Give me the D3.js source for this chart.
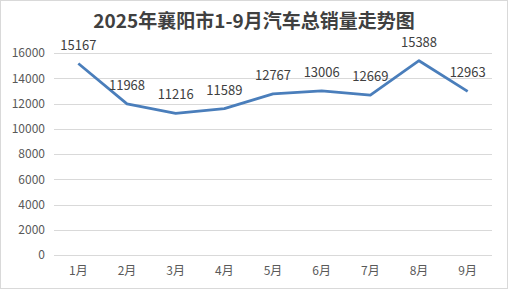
<!DOCTYPE html>
<html>
<head>
<meta charset="utf-8">
<script src="https://cdn.jsdelivr.net/npm/d3@7"></script>
<style>
  body { margin: 0; background: #fff; }
  svg { display: block; }
</style>
</head>
<body>
<svg></svg>
<script>
let width = 508, height = 289;

// data
const months = ["1月", "2月", "3月", "4月", "5月", "6月", "7月", "8月", "9月"];
const sales = [15167, 11968, 11216, 11589, 12767, 13006, 12669, 15388, 12963];
const yTicks = [0, 2000, 4000, 6000, 8000, 10000, 12000, 14000, 16000];
const title = "2025年襄阳市1-9月汽车总销量走势图";

const font = "'Noto Sans CJK SC', 'Noto Sans', sans-serif";

let svg = d3.select("svg")
    .attr("width", width)
    .attr("height", height)
    .style("font-family", font);

// outer frame
svg.append("rect")
    .attr("x", 0.5).attr("y", 0.5)
    .attr("width", width - 1).attr("height", height - 1)
    .attr("fill", "#fff")
    .attr("stroke", "#d9d9d9");

svg.append("text")
    .attr("x", width / 2)
    .attr("y", 28)
    .attr("text-anchor", "middle")
    .attr("font-size", 19)
    .attr("font-weight", "bold")
    .attr("fill", "#404040")
    .text(title);

let plotLeft = 54, plotRight = 492, plotTop = 53, plotBottom = 255;

let x = d3.scaleBand()
    .domain(months)
    .range([plotLeft, plotRight]);

let y = d3.scaleLinear()
    .domain([0, 16000])
    .range([plotBottom, plotTop]);

// gridlines
svg.append("g")
    .selectAll("line")
    .data(yTicks)
    .enter()
    .append("line")
    .attr("x1", plotLeft)
    .attr("x2", plotRight)
    .attr("y1", d => Math.round(y(d)) + 0.5)
    .attr("y2", d => Math.round(y(d)) + 0.5)
    .attr("stroke", "#d9d9d9")
    .attr("stroke-width", 1);

// y axis labels
let yAxis = svg.append("g")
    .attr("transform", "translate(" + (plotLeft - 9) + ",0)")
    .call(d3.axisLeft(y).tickValues(yTicks).tickFormat(d3.format("d")).tickSize(0).tickPadding(0));
yAxis.select(".domain").remove();
yAxis.selectAll("text")
    .attr("font-family", font)
    .attr("font-size", 12)
    .attr("fill", "#595959");

// x axis labels
let xAxis = svg.append("g")
    .attr("transform", "translate(0," + plotBottom + ")")
    .call(d3.axisBottom(x).tickSize(0).tickPadding(11));
xAxis.select(".domain").remove();
xAxis.selectAll("text")
    .attr("font-family", font)
    .attr("font-size", 12)
    .attr("fill", "#595959");

let cx = d => x(d) + x.bandwidth() / 2;

let line = d3.line()
    .x((d, i) => cx(months[i]))
    .y(d => y(d));

svg.append("path")
    .datum(sales)
    .attr("d", line)
    .attr("fill", "none")
    .attr("stroke", "#4a7ebb")
    .attr("stroke-width", 2.75)
    .attr("stroke-linejoin", "round");

// data labels
svg.append("g")
    .selectAll("text")
    .data(sales)
    .enter()
    .append("text")
    .attr("x", (d, i) => cx(months[i]))
    .attr("y", d => y(d) - 14)
    .attr("text-anchor", "middle")
    .attr("font-size", 13)
    .attr("fill", "#404040")
    .text(d => d);
</script>
</body>
</html>
